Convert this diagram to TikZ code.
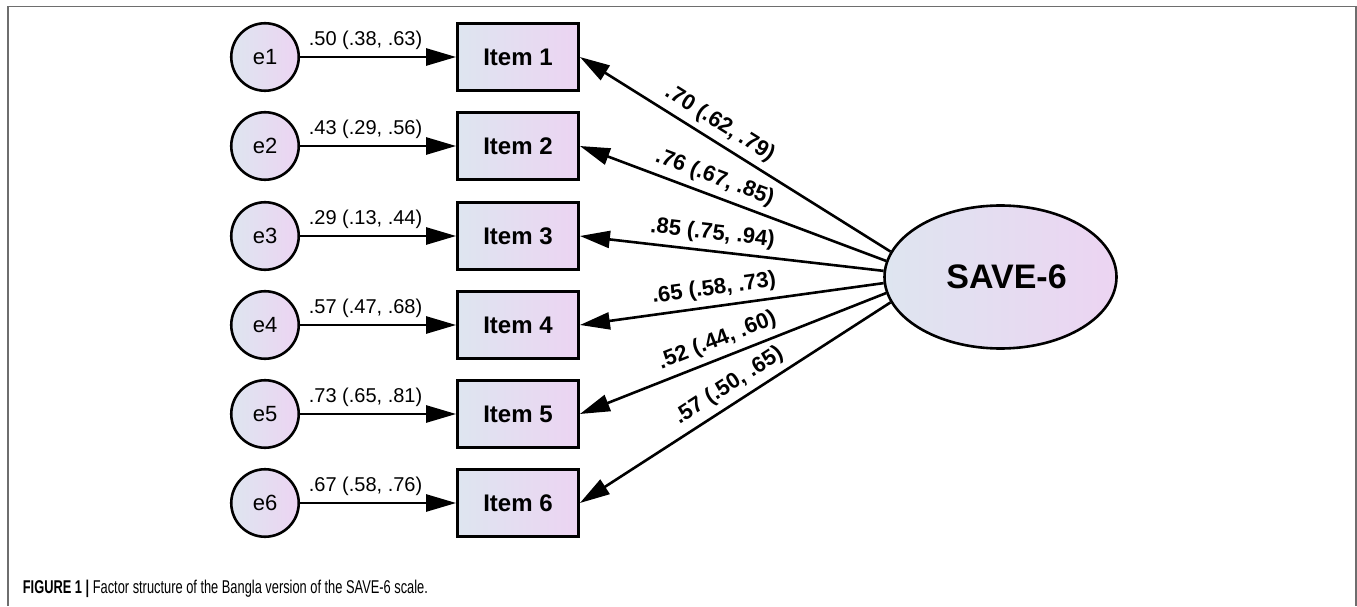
\documentclass[tikz,border=0pt]{standalone}
\usepackage{fontspec}
\setmainfont{Liberation Sans}
\usetikzlibrary{arrows.meta,shapes.geometric}
\definecolor{fillL}{RGB}{222,229,240}
\definecolor{fillR}{RGB}{236,212,242}
\definecolor{framegray}{RGB}{110,110,110}
\begin{document}
\begin{tikzpicture}[x=1pt,y=1pt,
  itembox/.style={draw, line width=2.8pt, minimum width=121pt, minimum height=67pt,
    left color=fillL, right color=fillR, inner sep=0,
    font=\fontsize{24}{28}\selectfont\bfseries},
  errc/.style={circle, draw, line width=2.6pt, minimum size=67.5pt, inner sep=0,
    left color=fillL, right color=fillR, font=\fontsize{22}{26}\selectfont},
  latent/.style={ellipse, draw, line width=2.6pt, minimum width=232pt, minimum height=143pt,
    inner sep=0, left color=fillL, right color=fillR,
    font=\fontsize{34}{40}\selectfont\bfseries},
  arr/.style={line width=2.6pt, -{Triangle[length=30pt,width=17pt]}},
  lab/.style={font=\fontsize{20}{24}\selectfont, inner sep=0, above=6pt},
  blab/.style={font=\fontsize{22}{26}\selectfont\bfseries, inner sep=0, sloped, above=6pt}
]
\useasboundingbox (0,0) rectangle (1357,606);
\draw[framegray, line width=1.8pt] (7.8,0) -- (7.8,599.5) -- (1355.8,599.5) -- (1355.8,0);

\node[errc] (e1) at (265,549) {e1};
\node[errc] (e2) at (265,460) {e2};
\node[errc] (e3) at (265,370) {e3};
\node[errc] (e4) at (265,281) {e4};
\node[errc] (e5) at (265,192) {e5};
\node[errc] (e6) at (265,103) {e6};

\node[itembox] (i1) at (518,549) {Item 1};
\node[itembox] (i2) at (518,460) {Item 2};
\node[itembox] (i3) at (518,370) {Item 3};
\node[itembox] (i4) at (518,281) {Item 4};
\node[itembox] (i5) at (518,192) {Item 5};
\node[itembox] (i6) at (518,103) {Item 6};

\node[latent] (sav) at (1000.5,329) {\hspace*{12pt}SAVE-6};

\draw[arr] (e1) -- node[lab, pos=0.42] {.50 (.38, .63)} (i1);
\draw[arr] (e2) -- node[lab, pos=0.42] {.43 (.29, .56)} (i2);
\draw[arr] (e3) -- node[lab, pos=0.42] {.29 (.13, .44)} (i3);
\draw[arr] (e4) -- node[lab, pos=0.42] {.57 (.47, .68)} (i4);
\draw[arr] (e5) -- node[lab, pos=0.42] {.73 (.65, .81)} (i5);
\draw[arr] (e6) -- node[lab, pos=0.42] {.67 (.58, .76)} (i6);

\draw[arr] (sav.167) -- node[blab, pos=0.58] {.70 (.62, .79)} (i1.east);
\draw[arr] (sav.172.5) -- node[blab, pos=0.58] {.76 (.67, .85)} (i2.east);
\draw[arr] (sav.177.5) -- node[blab, pos=0.57] {.85 (.75, .94)} (i3.east);
\draw[arr] (sav.183) -- node[blab, pos=0.55] {.65 (.58, .73)} (i4.east);
\draw[arr] (sav.188) -- node[blab, pos=0.53] {.52 (.44, .60)} (i5.east);
\draw[arr] (sav.193) -- node[blab, pos=0.49] {.57 (.50, .65)} (i6.east);

\node[anchor=base west, inner sep=0] (cap) at (22.7,13)
  {\resizebox{405pt}{\height}{\fontsize{18.5}{21}\selectfont\textbf{FIGURE 1 |} Factor structure of the Bangla version of the SAVE-6 scale.}};
\end{tikzpicture}
\end{document}
